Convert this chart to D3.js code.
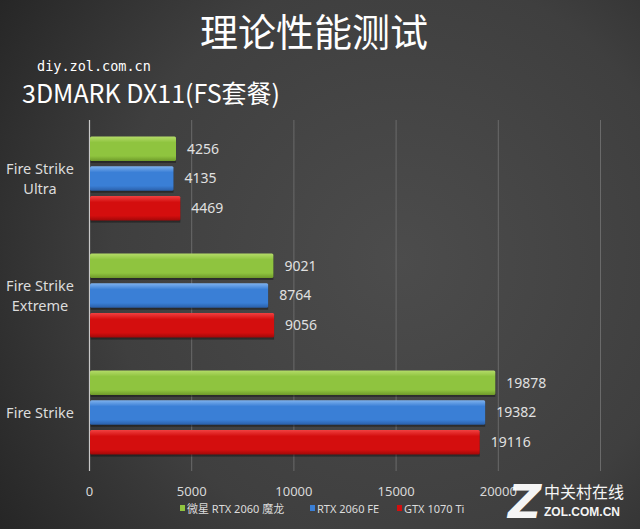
<!DOCTYPE html>
<html>
<head>
<meta charset="utf-8">
<script src="https://cdn.jsdelivr.net/npm/d3@7"></script>
<style>
  body { margin: 0; background: #333; }
  svg { display: block; }
</style>
</head>
<body>
<svg id="chart"></svg>
<script>
var svg_width = 640, svg_height = 529;
var margin = { top: 120, right: 40, bottom: 58, left: 89 };
var width = svg_width - margin.left - margin.right;
var height = svg_height - margin.top - margin.bottom;

// data
var categories = ["Fire Strike Ultra", "Fire Strike Extreme", "Fire Strike"];
var categoryLines = [["Fire Strike", "Ultra"], ["Fire Strike", "Extreme"], ["Fire Strike"]];
var seriesNames = ["微星 RTX 2060 魔龙", "RTX 2060 FE", "GTX 1070 Ti"];
var msiValues = [4256, 9021, 19878];
var feValues = [4135, 8764, 19382];
var tiValues = [4469, 9056, 19116];
var xTicks = [0, 5000, 10000, 15000, 20000, 25000];
var xTickLabels = ["0", "5000", "10000", "15000", "20000", ""];

var seriesValues = [msiValues, feValues, tiValues];
var colors = [
  { top: "#b5dc6a", mid: "#8fc43f", bot: "#6f9a2a" },
  { top: "#7fb2ee", mid: "#3a7fd6", bot: "#2a5fa8" },
  { top: "#f04040", mid: "#d40e0e", bot: "#a00808" }
];

var svg = d3.select("#chart")
  .attr("width", svg_width)
  .attr("height", svg_height);

var defs = svg.append("defs");
var bg = defs.append("radialGradient")
  .attr("id", "bg")
  .attr("gradientUnits", "userSpaceOnUse")
  .attr("cx", 400).attr("cy", 260).attr("r", 480);
bg.append("stop").attr("offset", "0%").attr("stop-color", "#4c4c4c");
bg.append("stop").attr("offset", "60%").attr("stop-color", "#3f3f3f");
bg.append("stop").attr("offset", "100%").attr("stop-color", "#262626");

colors.forEach(function (c, i) {
  var g = defs.append("linearGradient")
    .attr("id", "bar" + i)
    .attr("x1", 0).attr("y1", 0).attr("x2", 0).attr("y2", 1);
  g.append("stop").attr("offset", "0%").attr("stop-color", c.top);
  g.append("stop").attr("offset", "25%").attr("stop-color", c.mid);
  g.append("stop").attr("offset", "80%").attr("stop-color", c.mid);
  g.append("stop").attr("offset", "100%").attr("stop-color", c.bot);
});

svg.append("rect")
  .attr("width", svg_width)
  .attr("height", svg_height)
  .attr("fill", "url(#bg)");

// titles
svg.append("text")
  .attr("x", 314).attr("y", 46)
  .attr("text-anchor", "middle")
  .attr("fill", "#ffffff")
  .attr("font-family", "Noto Sans CJK SC")
  .attr("font-size", 38)
  .text("理论性能测试");

svg.append("text")
  .attr("x", 37).attr("y", 71)
  .attr("fill", "#ffffff")
  .attr("font-family", "DejaVu Sans Mono")
  .attr("font-size", 13.5)
  .text("diy.zol.com.cn");

svg.append("text")
  .attr("x", 22).attr("y", 103)
  .attr("fill", "#ffffff")
  .attr("font-family", "Noto Sans CJK SC")
  .attr("font-size", 25)
  .attr("transform", "translate(22,0) scale(1,1) translate(-22,0)")
  .text("3DMARK DX11(FS套餐)");

var x = d3.scaleLinear().domain([0, 25000]).range([0, width]);
var y = d3.scaleBand().domain(categories).range([0, height]).paddingInner(0.28).paddingOuter(0.14);
var y1 = d3.scaleBand().domain(d3.range(seriesNames.length)).range([0, y.bandwidth()]).paddingInner(0.18);

var g = svg.append("g")
  .attr("transform", "translate(" + margin.left + "," + margin.top + ")");

// grid
g.append("g")
  .selectAll("line")
  .data(xTicks.slice(1))
  .enter().append("line")
  .attr("x1", function (d) { return x(d) + 0.5; })
  .attr("x2", function (d) { return x(d) + 0.5; })
  .attr("y1", 0).attr("y2", height)
  .attr("stroke", "#6a6a6a")
  .attr("stroke-width", 1);

g.append("line")
  .attr("x1", 0.5).attr("x2", 0.5)
  .attr("y1", 0).attr("y2", height)
  .attr("stroke", "#c8c8c8")
  .attr("stroke-width", 1.2);

// x axis labels
var xAxis = g.append("g")
  .attr("transform", "translate(0," + height + ")")
  .call(d3.axisBottom(x).tickValues(xTicks).tickSize(0).tickPadding(16)
    .tickFormat(function (d, i) { return xTickLabels[i]; }));
xAxis.select(".domain").remove();
xAxis.selectAll("text")
  .attr("fill", "#d8d8d8")
  .attr("font-family", "Noto Sans")
  .attr("font-size", 13);

// category labels
categories.forEach(function (c, i) {
  var lines = categoryLines[i];
  var cy = y(c) + y.bandwidth() / 2;
  var t = svg.append("text")
    .attr("x", 40)
    .attr("y", margin.top + cy - (lines.length - 1) * 10 + 5)
    .attr("text-anchor", "middle")
    .attr("fill", "#dcdcdc")
    .attr("font-family", "Noto Sans")
    .attr("font-size", 14.5);
  lines.forEach(function (l, j) {
    t.append("tspan").attr("x", 40).attr("dy", j === 0 ? 0 : 20).text(l);
  });
});

// bars
var groups = g.selectAll(".grp")
  .data(categories)
  .enter().append("g")
  .attr("class", "grp")
  .attr("transform", function (d) { return "translate(0," + y(d) + ")"; });

groups.each(function (c, ci) {
  var sel = d3.select(this);
  seriesValues.forEach(function (vals, si) {
    var v = vals[ci];
    sel.append("rect")
      .attr("x", 1.5)
      .attr("y", y1(si) + 2)
      .attr("width", x(v) - 1.5)
      .attr("height", y1.bandwidth())
      .attr("fill", "rgba(0,0,0,0.35)");
    sel.append("rect")
      .attr("x", 1)
      .attr("y", y1(si))
      .attr("width", x(v) - 1)
      .attr("height", y1.bandwidth())
      .attr("rx", 1.5)
      .attr("fill", "url(#bar" + si + ")");
    sel.append("text")
      .attr("x", x(v) + 11)
      .attr("y", y1(si) + y1.bandwidth() / 2 + 5)
      .attr("fill", "#e0e0e0")
      .attr("font-family", "Noto Sans")
      .attr("font-size", 14)
      .text(v);
  });
});

// legend
var legendX = [180, 310, 397];
var legend = svg.append("g");
seriesNames.forEach(function (n, i) {
  legend.append("rect")
    .attr("x", legendX[i]).attr("y", 505)
    .attr("width", 5).attr("height", 6)
    .attr("fill", colors[i].mid);
  legend.append("text")
    .attr("x", legendX[i] + 7).attr("y", 513)
    .attr("fill", "#dcdcdc")
    .attr("font-family", "Noto Sans, Noto Sans CJK SC")
    .attr("font-size", 11)
    .text(n);
});

// watermark
var wm = svg.append("g").attr("opacity", 0.95);
wm.append("text")
  .attr("x", 508).attr("y", 518)
  .attr("fill", "#ffffff")
  .attr("font-family", "DejaVu Sans")
  .attr("font-weight", "bold")
  .attr("font-style", "italic")
  .attr("font-size", 46)
  .text("Z");
wm.append("text")
  .attr("x", 544).attr("y", 498)
  .attr("fill", "#ffffff")
  .attr("font-family", "Noto Sans CJK SC")
  .attr("font-size", 16)
  .text("中关村在线");
wm.append("text")
  .attr("x", 544).attr("y", 516)
  .attr("fill", "#ffffff")
  .attr("font-family", "Liberation Sans")
  .attr("font-weight", "bold")
  .attr("font-size", 12)
  .text("ZOL.COM.CN");
</script>
</body>
</html>
